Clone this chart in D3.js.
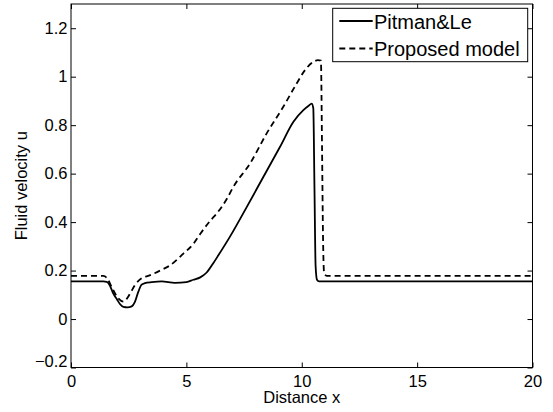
<!DOCTYPE html>
<html>
<head>
<meta charset="utf-8">
<script src="https://cdn.jsdelivr.net/npm/d3@7"></script>
<style>
  html, body { margin: 0; padding: 0; background: #fff; }
  svg { display: block; font-family: "Liberation Sans", Arial, Helvetica, sans-serif; }
</style>
</head>
<body>
<svg id="chart" width="553" height="412"></svg>
<script>
// ---- data ----
const pitmanX = [0, 1.4, 1.55, 1.7, 1.83, 2.0, 2.12, 2.27, 2.45, 2.63, 2.77, 2.92, 3.06, 3.2, 3.5, 3.93, 4.5, 5.0, 5.3, 5.6, 5.88, 6.15, 6.4, 6.89, 7.62, 8.34, 9.06, 9.64, 10.07, 10.3, 10.43, 10.5, 10.55, 10.6, 10.66, 10.75, 20];
const pitmanU = [0.155, 0.155, 0.153, 0.135, 0.106, 0.08, 0.062, 0.05, 0.048, 0.052, 0.071, 0.113, 0.142, 0.148, 0.152, 0.155, 0.149, 0.152, 0.162, 0.172, 0.192, 0.228, 0.265, 0.34, 0.463, 0.587, 0.711, 0.814, 0.862, 0.88, 0.889, 0.87, 0.55, 0.22, 0.162, 0.155, 0.155];

const modelX = [0, 1.4, 1.55, 1.76, 2.05, 2.27, 2.45, 2.6, 2.77, 3.06, 3.4, 3.86, 4.3, 4.87, 5.3, 5.59, 6.03, 6.32, 6.75, 7.04, 7.76, 8.48, 9.2, 9.78, 10.14, 10.5, 10.7, 10.83, 10.88, 10.92, 10.97, 11.08, 20];
const modelU = [0.178, 0.178, 0.17, 0.133, 0.085, 0.072, 0.088, 0.112, 0.14, 0.168, 0.18, 0.2, 0.222, 0.27, 0.31, 0.35, 0.405, 0.436, 0.495, 0.546, 0.642, 0.766, 0.876, 0.972, 1.027, 1.061, 1.068, 1.066, 0.7, 0.35, 0.19, 0.178, 0.178];

const xTicks = [0, 5, 10, 15, 20];
const yTicks = [-0.2, 0, 0.2, 0.4, 0.6, 0.8, 1, 1.2];
const yTickLabels = ["\u22120.2", "0", "0.2", "0.4", "0.6", "0.8", "1", "1.2"];
const seriesNames = ["Pitman&Le", "Proposed model"];
const xLabel = "Distance x";
const yLabel = "Fluid velocity u";

// ---- layout ----
const L = 71, R = 532.5, T = 4, B = 367.5;
const svg = d3.select("#chart");
const x = d3.scaleLinear().domain([0, 20]).range([L, R]);
const y = d3.scaleLinear().domain([-0.2, 1.3]).range([B, T]);

const tickFont = "16.5px";

// bottom axis
const gB = svg.append("g").attr("transform", `translate(0,${B})`)
  .call(d3.axisBottom(x).tickValues(xTicks).tickFormat(d3.format("d")).tickSizeInner(-5).tickSizeOuter(0).tickPadding(7.5));
// left axis
const gL = svg.append("g").attr("transform", `translate(${L},0)`)
  .call(d3.axisLeft(y).tickValues(yTicks).tickFormat((d, i) => yTickLabels[i]).tickSizeInner(-5).tickSizeOuter(0).tickPadding(3.5));
// top & right ticks (no labels)
const gT = svg.append("g").attr("transform", `translate(0,${T})`)
  .call(d3.axisTop(x).tickValues(xTicks).tickFormat("").tickSizeInner(-5).tickSizeOuter(0));
const gR = svg.append("g").attr("transform", `translate(${R},0)`)
  .call(d3.axisRight(y).tickValues(yTicks).tickFormat("").tickSizeInner(-5).tickSizeOuter(0));

[gB, gL, gT, gR].forEach(g => {
  g.select(".domain").remove();
  g.selectAll(".tick line").attr("stroke", "#000").attr("stroke-width", 1);
  g.selectAll(".tick text").attr("fill", "#000").style("font-size", tickFont)
    .style("font-family", "'Liberation Sans', Arial, Helvetica, sans-serif");
});
// the bottom-most y label is lifted as in the original
gL.selectAll(".tick").filter(d => d === -0.2).select("text").attr("y", -6);

// box
svg.append("rect").attr("x", L).attr("y", T).attr("width", R - L).attr("height", B - T)
  .attr("fill", "none").attr("stroke", "#000").attr("stroke-width", 1);

// lines
const line = d3.line().x(d => x(d[0])).y(d => y(d[1])).curve(d3.curveMonotoneX);
const pitman = pitmanX.map((v, i) => [v, pitmanU[i]]);
const model = modelX.map((v, i) => [v, modelU[i]]);

svg.append("path").datum(model).attr("d", line)
  .attr("fill", "none").attr("stroke", "#000").attr("stroke-width", 1.8)
  .attr("stroke-dasharray", "6,4").attr("stroke-linejoin", "round");
svg.append("path").datum(pitman).attr("d", line)
  .attr("fill", "none").attr("stroke", "#000").attr("stroke-width", 1.8)
  .attr("stroke-linejoin", "round");

// axis labels
svg.append("text").attr("x", (L + R) / 2).attr("y", 403)
  .attr("text-anchor", "middle").style("font-size", "16.5px").text(xLabel);
svg.append("text").attr("transform", `translate(27,${(T + B) / 2}) rotate(-90)`)
  .attr("text-anchor", "middle").style("font-size", "16.5px").text(yLabel);

// legend
const lg = svg.append("g");
lg.append("rect").attr("x", 332.7).attr("y", 8.3).attr("width", 195).attr("height", 53.4)
  .attr("fill", "#fff").attr("stroke", "#000").attr("stroke-width", 1);
const rows = [{ y: 21, dash: null }, { y: 48.5, dash: "6,4" }];
rows.forEach((r, i) => {
  lg.append("line").attr("x1", 339.3).attr("x2", 372.7).attr("y1", r.y).attr("y2", r.y)
    .attr("stroke", "#000").attr("stroke-width", 1.8)
    .attr("stroke-dasharray", r.dash);
  lg.append("text").attr("x", 374).attr("y", r.y + 7.5)
    .style("font-size", "20px").text(seriesNames[i]);
});
</script>
</body>
</html>
